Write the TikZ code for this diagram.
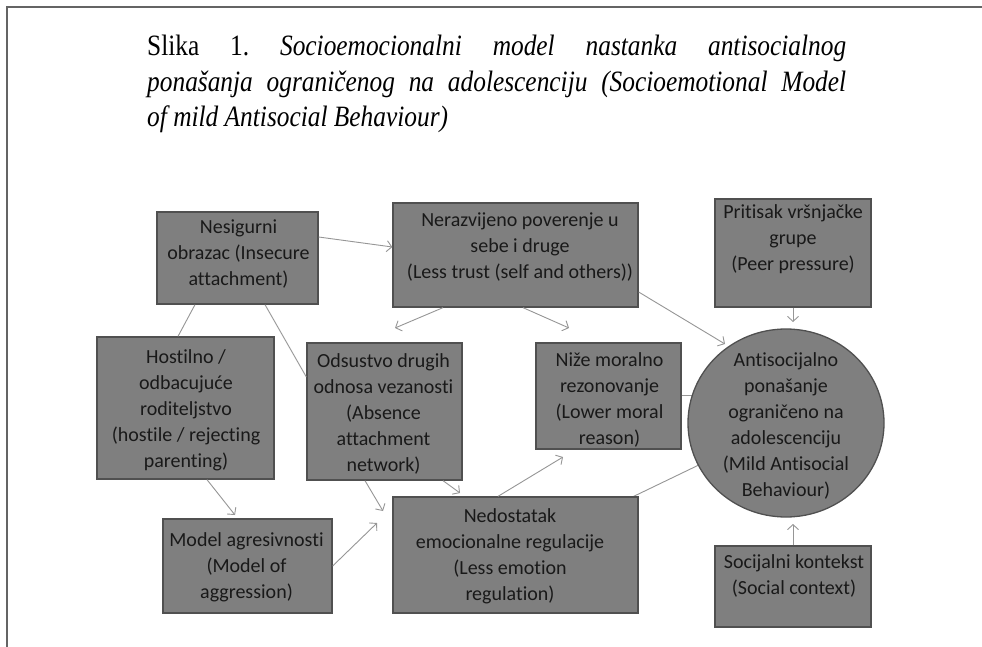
\documentclass[tikz,border=0pt]{standalone}
\usepackage{fontspec}
\usetikzlibrary{arrows.meta,shapes.geometric,calc}
\newfontfamily\boxfont[Ligatures=NoCommon]{Carlito}
\newfontfamily\titlefont[FakeStretch=0.86]{Liberation Serif}
\definecolor{boxfill}{RGB}{127,127,127}
\definecolor{boxline}{RGB}{80,80,80}
\definecolor{arrgray}{RGB}{150,150,150}
\definecolor{txt}{RGB}{25,25,25}
\definecolor{framegray}{RGB}{100,100,100}
\pgfdeclarelayer{bg}
\pgfsetlayers{bg,main}
\begin{document}
\frenchspacing
\begin{tikzpicture}[x=1pt,y=-1pt,
 box/.style={draw=boxline, fill=boxfill, line width=1.3pt, inner sep=0pt},
 lbl/.style={inner sep=0pt, align=center, text=txt, font=\boxfont\fontsize{20}{26}\selectfont},
 ttl/.style={anchor=base west, inner sep=0pt, text=black, font=\titlefont\fontsize{29.5}{35.5}\selectfont},
 arr/.style={draw=arrgray, line width=0.9pt, -{Straight Barb[length=5pt,width=11pt]}},
 conn/.style={draw=arrgray, line width=0.9pt}]
\useasboundingbox (0,0) rectangle (982,647);
\begin{pgfonlayer}{bg}
\fill[white] (0,0) rectangle (982,647);
\end{pgfonlayer}
\coordinate (f1) at (7,647);
\coordinate (f2) at (7,7);
\coordinate (f3) at (982,7);
\draw[framegray, line width=2pt] (f1) -- (f2) -- (f3);

% title
\node[ttl] (title1) at (147,56) {\makebox[699pt][s]{Slika 1. \itshape Socioemocionalni model nastanka antisocialnog}};
\node[ttl] (title2) at (147,91.5) {\makebox[699pt][s]{\itshape ponašanja ograničenog na adolescenciju (Socioemotional Model}};
\node[ttl] (title3) at (147,127) {\itshape of mild Antisocial Behaviour)};

% boxes
\node[box, minimum width=161pt, minimum height=92pt] (nes) at (237.5,258) {};
\node[box, minimum width=245pt, minimum height=104pt] (ner) at (515.5,255) {};
\node[box, minimum width=156pt, minimum height=108pt] (peer) at (793,253) {};
\node[box, minimum width=177pt, minimum height=142pt] (host) at (185.5,408) {};
\node[box, minimum width=155pt, minimum height=137pt] (ods) at (384.5,411.5) {};
\node[box, minimum width=145pt, minimum height=106pt] (niz) at (608.5,396) {};
\node[box, ellipse, minimum width=196pt, minimum height=188pt] (circ) at (786,423) {};
\node[box, minimum width=169pt, minimum height=94pt] (mod) at (247.5,566) {};
\node[box, minimum width=245pt, minimum height=116pt] (ned) at (515.5,555) {};
\node[box, minimum width=156pt, minimum height=81pt] (soc) at (793,586.5) {};

% labels
\node[lbl] (nesT) at (238.5,254.5) {Nesigurni\\obrazac (Insecure\\attachment)};
\node[lbl] (nerT) at (520,247.5) {Nerazvijeno poverenje u\\sebe i druge\\(Less trust (self and others))};
\node[lbl] (peerT) at (793,239.5) {Pritisak vršnjačke\\grupe\\(Peer pressure)};
\node[lbl] (hostT) at (186,410.5) {Hostilno /\\odbacujuće\\roditeljstvo\\(hostile / rejecting\\parenting)};
\node[lbl] (odsT) at (383.5,414) {Odsustvo drugih\\odnosa vezanosti\\(Absence\\attachment\\network)};
\node[lbl] (nizT) at (609.5,399.5) {Niže moralno\\rezonovanje\\(Lower moral\\reason)};
\node[lbl] (circT) at (786,426) {Antisocijalno\\ponašanje\\ograničeno na\\adolescenciju\\(Mild Antisocial\\Behaviour)};
\node[lbl] (modT) at (246.5,567.5) {Model agresivnosti\\(Model of\\aggression)};
\node[lbl] (nedT) at (510,556) {Nedostatak\\emocionalne regulacije\\(Less emotion\\regulation)};
\node[lbl] (socT) at (794,576) {Socijalni kontekst\\(Social context)};

% free arrow ends
\coordinate (t1) at (395,328);
\coordinate (t2) at (569,328);
\coordinate (t3) at (725,344);
\coordinate (t4) at (793,322);
\coordinate (t5) at (793,524);
\coordinate (t6) at (235,515);
\coordinate (t7) at (377,523);
\coordinate (t8) at (383,511);
\coordinate (t9) at (460,493);
\coordinate (t10) at (563,457);

% connectors
\draw[arr] ([yshift=21pt]nes.east) -- ([yshift=8pt]ner.west);
\draw[arr] ([xshift=-72.5pt]ner.south) -- (t1);
\draw[arr] ([xshift=7.5pt]ner.south) -- (t2);
\draw[arr] ([yshift=-37pt]ner.east) -- (t3);
\draw[arr] (peer.south) -- (t4);
\draw[arr] (soc.north) -- (t5);
\draw[conn] ([xshift=-42.5pt]nes.south) -- ([xshift=-7.5pt]host.north);
\draw[conn] ([xshift=27.5pt]nes.south) -- ([yshift=34.5pt]ods.west);
\draw[arr] ([xshift=21.5pt]host.south) -- (t6);
\draw[arr] (mod.east) -- (t7);
\draw[arr] ([xshift=-19.5pt]ods.south) -- (t8);
\draw[arr] ([xshift=58.5pt]ods.south) -- (t9);
\draw[arr] ([xshift=-17.5pt]ned.north) -- (t10);
\begin{pgfonlayer}{bg}
\draw[conn] ([yshift=1pt]niz.east) -- ([yshift=1pt]niz.east -| circ.center);
\draw[conn] ([xshift=-5pt]ned.north east) -- (circ.center);
\end{pgfonlayer}
\end{tikzpicture}
\end{document}
